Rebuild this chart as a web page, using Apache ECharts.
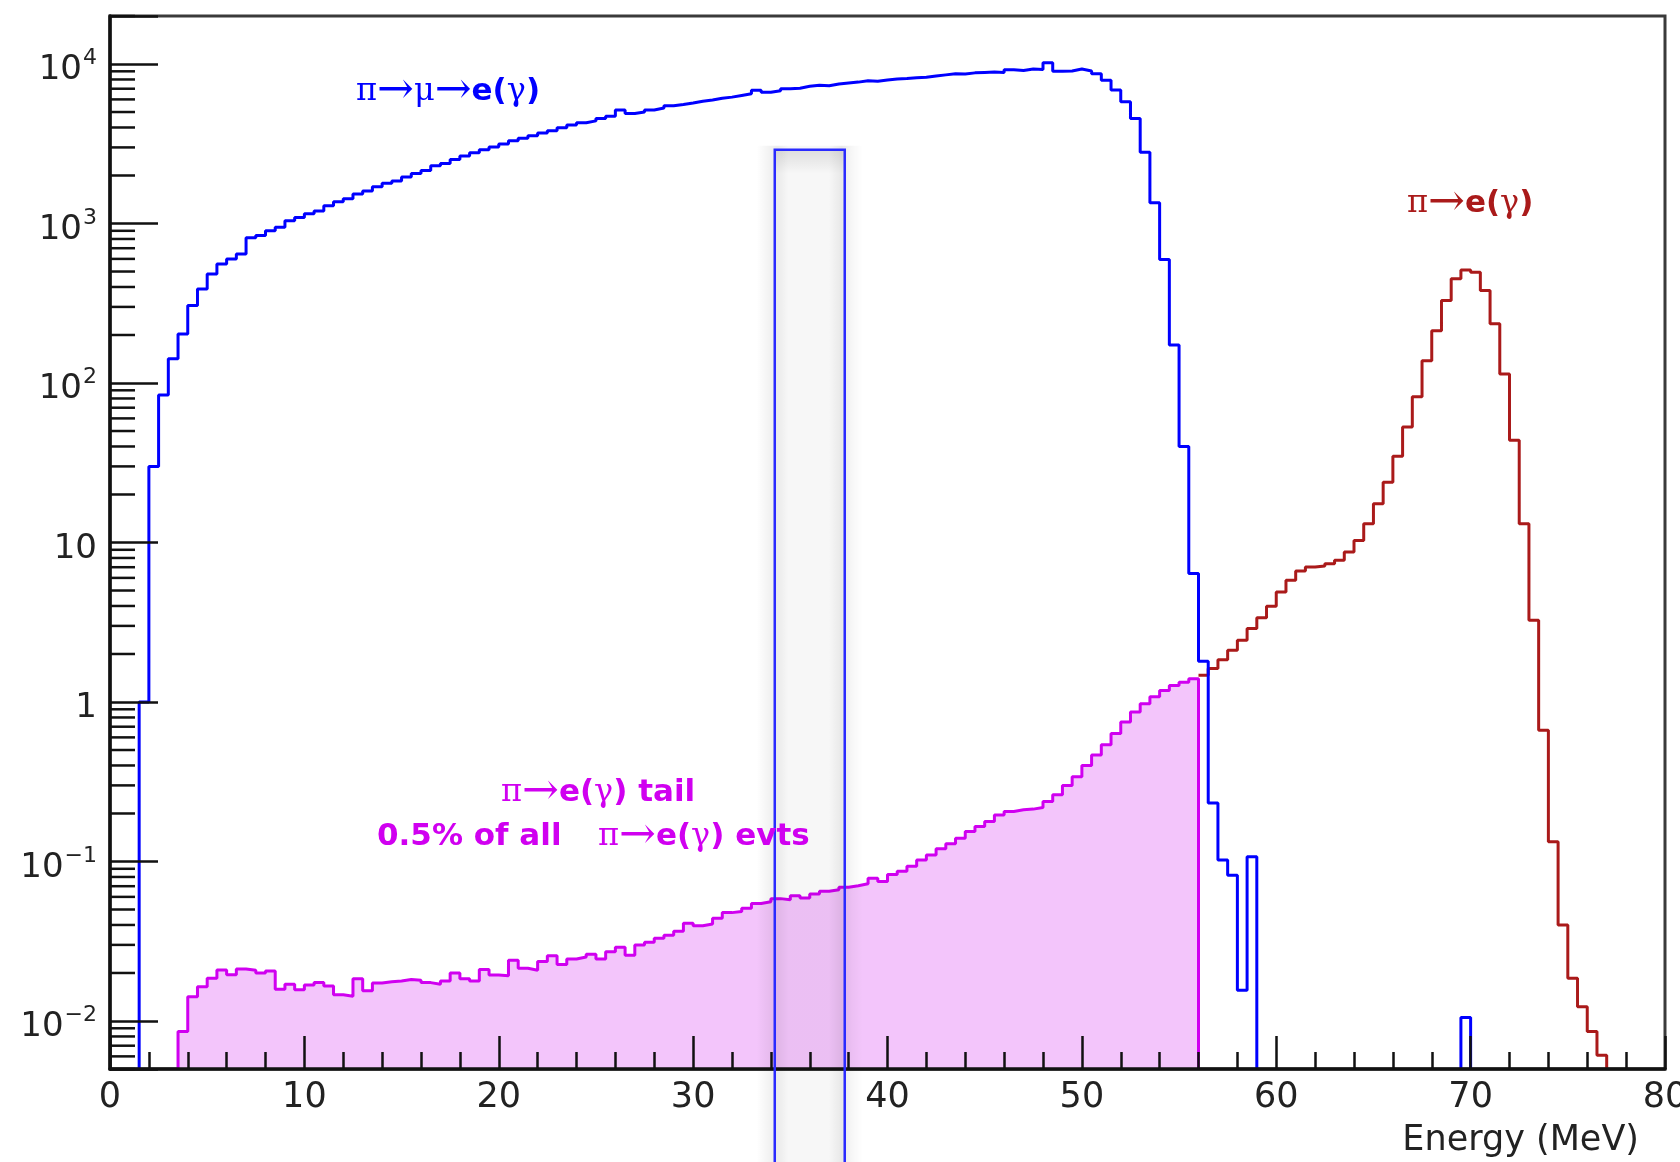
<!DOCTYPE html>
<html lang="en">
<head>
    <meta charset="UTF-8">
    <title>pi decay energy spectrum</title>
    <script src="https://cdn.jsdelivr.net/npm/echarts@6/dist/echarts.min.js"></script>
</head>
<body style="margin:0;background:#fff">
<div id="chart" style="width:1680px;height:1162px"></div>
<script>
    // all histograms use 0.5 MeV bins
    var binWidth = 0.5;
    var yMin = 0.005, yMax = 20000;

    // pi -> mu -> e(gamma), first bin starts at 1.5 MeV (0 = empty bin)
    var pmeStart = 1.5;
    var pmeCounts = [
        1.0, 30, 84, 142, 203, 306, 389, 483, 558, 600,
        645, 813, 840, 902, 946, 1040, 1090, 1150, 1200, 1290,
        1370, 1430, 1530, 1600, 1700, 1790, 1850, 1960, 2060, 2150,
        2300, 2380, 2520, 2650, 2780, 2900, 3020, 3150, 3300, 3420,
        3550, 3700, 3820, 3980, 4150, 4280, 4400, 4560, 4700, 5150,
        4900, 5000, 5150, 5300, 5480, 5580, 5700, 5850, 5950, 6100,
        6200, 6350, 6500, 6850, 6650, 6800, 7000, 7050, 7250, 7350,
        7300, 7500, 7600, 7700, 7850, 7800, 7950, 8050, 8100, 8200,
        8250, 8400, 8550, 8700, 8650, 8800, 8850, 8900, 8850, 9200,
        9100, 9300, 9250, 10200, 9000, 9050, 9300, 9050, 8690, 7900,
        6860, 5800, 4550, 2800, 1350, 595, 173, 40, 6.4, 1.8,
        0.233, 0.102, 0.082, 0.0156, 0.107, 0, 0, 0, 0, 0,
        0, 0, 0, 0, 0, 0, 0, 0, 0, 0,
        0, 0, 0, 0, 0, 0, 0.0105
    ];

    // pi -> e(gamma), first bin starts at 3.5 MeV
    var peStart = 3.5;
    var peCounts = [
        0.0086, 0.0142, 0.0164, 0.0185, 0.0209, 0.0195, 0.0212, 0.0208, 0.0200, 0.0206,
        0.0158, 0.0170, 0.0157, 0.0168, 0.0174, 0.0166, 0.0146, 0.0143, 0.0184, 0.0155,
        0.0173, 0.0176, 0.0178, 0.0182, 0.0180, 0.0174, 0.0170, 0.0178, 0.0200, 0.0184,
        0.0178, 0.0210, 0.0194, 0.0192, 0.0240, 0.0214, 0.0208, 0.0236, 0.0256, 0.0226,
        0.0245, 0.0252, 0.0262, 0.0245, 0.0272, 0.0290, 0.0258, 0.0300, 0.0312, 0.0330,
        0.0345, 0.0365, 0.0410, 0.0395, 0.0405, 0.0440, 0.0478, 0.0485, 0.0510, 0.0545,
        0.0560, 0.0585, 0.0575, 0.0610, 0.0590, 0.0625, 0.0650, 0.0665, 0.0690, 0.0705,
        0.0725, 0.0785, 0.0750, 0.0830, 0.0870, 0.0935, 0.102, 0.110, 0.120, 0.129,
        0.140, 0.154, 0.166, 0.178, 0.196, 0.206, 0.211, 0.213, 0.218, 0.238,
        0.262, 0.300, 0.340, 0.400, 0.465, 0.540, 0.635, 0.750, 0.865, 0.975,
        1.08, 1.18, 1.27, 1.33, 1.40, 1.47, 1.62, 1.84, 2.11, 2.44,
        2.89, 3.38, 3.98, 4.90, 5.79, 6.63, 7.02, 7.13, 7.37, 7.73,
        8.71, 10.3, 13.1, 17.5, 23.9, 34.7, 53, 82, 138, 213,
        329, 450, 512, 495, 380, 235, 114, 43.7, 13.1, 3.25,
        0.666, 0.133, 0.040, 0.0185, 0.0123, 0.0086, 0.0061
    ];
    var tailCut = 56;   // below this energy the pi->e histogram is the shaded tail

    // highlighted energy window
    var boxRange = [34.2, 37.8];
    var boxTop = 2900;

    // ROOT style minor ticks on the log axis
    var minorMultipliers = [2, 3, 4, 5, 6, 7, 8, 9];
    var decades = [-3, -2, -1, 0, 1, 2, 3, 4];

    var blue = '#0000ff', red = '#aa1a1a', magenta = '#d000f0', pink = '#f3c5fb';
    var sans = 'DejaVu Sans', serif = 'DejaVu Serif';

    // bin contents -> points for a step ('end') line, empty bins drop to the floor
    function stepPoints(start, counts, lo, hi, openLeft) {
        var pts = [], inRun = false, lastX = null, first = true;
        for (var i = 0; i < counts.length; i++) {
            var x = start + i * binWidth;
            if (x < lo - 1e-9 || x + binWidth > hi + 1e-9) continue;
            var v = counts[i];
            if (v > 0) {
                if (!inRun) {
                    if (!(openLeft && first)) pts.push([x, yMin]);
                    inRun = true;
                }
                pts.push([x, v]);
                first = false;
            } else if (inRun) {
                pts.push([x, yMin]);
                pts.push([x, null]);
                inRun = false;
            }
            lastX = x;
        }
        if (inRun) pts.push([lastX + binWidth, yMin]);
        return pts;
    }

    var minorTicks = [];
    decades.forEach(function (e) {
        minorMultipliers.forEach(function (m) {
            var v = m * Math.pow(10, e);
            if (v >= yMin && v <= yMax) minorTicks.push([0, v]);
        });
    });

    function yLabel(v) {
        var lg = Math.log10(v);
        var e = Math.round(lg);
        if (Math.abs(lg - e) > 1e-6) return '';
        if (e === 0) return '{m|1}';
        if (e === 1) return '{m|10}';
        return '{m|10}{s|' + (e < 0 ? '\u2212' + (-e) : e) + '}';
    }

    // rich styles for the physics labels (greek + arrows + bold sans)
    function richFor(color) {
        return {
            g: {fontFamily: serif, fontSize: 32, fill: color, verticalAlign: 'middle'},
            a: {fontFamily: serif, fontSize: 44, fill: color, verticalAlign: 'middle'},
            b: {fontFamily: sans, fontWeight: 'bold', fontSize: 31, fill: color, verticalAlign: 'middle'}
        };
    }

    var _chart = echarts.init(document.getElementById('chart'));

    var option = {
        animation: false,
        backgroundColor: '#fff',
        grid: {
            left: 110, right: 15, top: 16, bottom: 93,
            show: true, borderColor: '#3a3a3a', borderWidth: 3,
            outerBoundsMode: 'none'
        },
        xAxis: {
            type: 'value', min: 0, max: 80, interval: 10, z: 5,
            axisLine: {onZero: false, lineStyle: {color: '#111', width: 3.5}},
            axisTick: {inside: true, length: 33, lineStyle: {color: '#111', width: 2.5}},
            minorTick: {show: true, splitNumber: 5, length: 17, lineStyle: {color: '#111', width: 2.5}},
            splitLine: {show: false},
            axisLabel: {margin: 11, fontFamily: sans, fontSize: 35, color: '#222'}
        },
        yAxis: {
            type: 'log', logBase: 10, min: yMin, max: yMax, z: 5,
            axisLine: {lineStyle: {color: '#111', width: 3.5}},
            axisTick: {inside: true, length: 48, lineStyle: {color: '#111', width: 2.5}},
            splitLine: {show: false},
            axisLabel: {
                margin: 13, fontFamily: sans, fontSize: 34, color: '#222',
                padding: [13, 0, 0, 0],
                formatter: yLabel,
                rich: {
                    m: {fontFamily: sans, fontSize: 34, color: '#222', lineHeight: 46},
                    s: {fontFamily: sans, fontSize: 22, color: '#222', verticalAlign: 'top', padding: [0, 0, 0, 1]}
                }
            }
        },
        graphic: [
            {
                type: 'text', x: 356, y: 92, z: 10,
                style: {
                    text: '{g|π}{a|→}{g|μ}{a|→}{b|e(}{g|γ}{b|)}', verticalAlign: 'middle', fill: blue,
                    rich: richFor(blue)
                }
            },
            {
                type: 'text', x: 1407, y: 204, z: 10,
                style: {
                    text: '{g|π}{a|→}{b|e(}{g|γ}{b|)}', verticalAlign: 'middle', fill: red,
                    rich: richFor(red)
                }
            },
            {
                type: 'text', x: 501, y: 793, z: 10,
                style: {
                    text: '{g|π}{a|→}{b|e(}{g|γ}{b|) tail}', verticalAlign: 'middle', fill: magenta,
                    rich: richFor(magenta)
                }
            },
            {
                type: 'text', x: 377, y: 837, z: 10,
                style: {
                    text: '0.5% of all', verticalAlign: 'middle', fill: magenta,
                    fontFamily: sans, fontWeight: 'bold', fontSize: 31
                }
            },
            {
                type: 'text', x: 598, y: 837, z: 10,
                style: {
                    text: '{g|π}{a|→}{b|e(}{g|γ}{b|) evts}', verticalAlign: 'middle', fill: magenta,
                    rich: richFor(magenta)
                }
            },
            {
                type: 'text', x: 1639, y: 1141, z: 10,
                style: {
                    text: 'Energy (MeV)', align: 'right', verticalAlign: 'middle',
                    fill: '#222', fontFamily: sans, fontSize: 35
                }
            }
        ],
        series: [
            {
                name: 'pi-e peak', type: 'line', step: 'end', symbol: 'none', z: 2,
                data: stepPoints(peStart, peCounts, tailCut, Infinity, true),
                lineStyle: {color: red, width: 3}
            },
            {
                name: 'pi-e tail', type: 'line', step: 'end', symbol: 'none', z: 3,
                data: stepPoints(peStart, peCounts, -Infinity, tailCut, false),
                lineStyle: {color: magenta, width: 3},
                areaStyle: {color: pink, opacity: 1, origin: 'start'}
            },
            {
                name: 'pi-mu-e', type: 'line', step: 'end', symbol: 'none', z: 4,
                data: stepPoints(pmeStart, pmeCounts, -Infinity, Infinity, false),
                lineStyle: {color: blue, width: 3}
            },
            {
                // minor ticks of the log axis, 2..9 in every decade
                type: 'custom', silent: true, z: 6,
                data: minorTicks,
                renderItem: function (params, api) {
                    var p = api.coord([api.value(0), api.value(1)]);
                    return {
                        type: 'line',
                        shape: {x1: p[0], y1: p[1], x2: p[0] + 25, y2: p[1]},
                        style: {stroke: '#111', lineWidth: 2.5}
                    };
                }
            },
            {
                // highlighted window, drawn past the bottom of the frame
                type: 'custom', silent: true, z: 7, clip: false,
                encode: {x: [0, 1], y: 2},
                data: [[boxRange[0], boxRange[1], boxTop]],
                renderItem: function (params, api) {
                    var a = api.coord([api.value(0), api.value(2)]);
                    var b = api.coord([api.value(1), api.value(2)]);
                    var h = api.getHeight() - a[1] + 10;
                    var w = b[0] - a[0];
                    return {
                        type: 'group',
                        children: [
                            {
                                type: 'rect',
                                shape: {x: a[0] - 18, y: a[1] - 4, width: w + 36, height: h + 4},
                                style: {
                                    fill: new echarts.graphic.LinearGradient(0, 0, 1, 0, [
                                        {offset: 0, color: 'rgba(0,0,0,0)'},
                                        {offset: 0.12, color: 'rgba(0,0,0,0.05)'},
                                        {offset: 0.2, color: 'rgba(0,0,0,0.08)'},
                                        {offset: 0.3, color: 'rgba(0,0,0,0.03)'},
                                        {offset: 0.68, color: 'rgba(0,0,0,0.03)'},
                                        {offset: 0.8, color: 'rgba(0,0,0,0.09)'},
                                        {offset: 0.9, color: 'rgba(0,0,0,0.03)'},
                                        {offset: 1, color: 'rgba(0,0,0,0)'}
                                    ])
                                }
                            },
                            {
                                type: 'rect',
                                shape: {x: a[0], y: a[1], width: w, height: 24},
                                style: {
                                    fill: new echarts.graphic.LinearGradient(0, 0, 0, 1, [
                                        {offset: 0, color: 'rgba(0,0,0,0.10)'},
                                        {offset: 1, color: 'rgba(0,0,0,0)'}
                                    ])
                                }
                            },
                            {
                                type: 'rect',
                                shape: {x: a[0], y: a[1], width: w, height: h},
                                style: {fill: 'none', stroke: '#2a2aff', lineWidth: 2.5}
                            }
                        ]
                    };
                }
            }
        ]
    };
    _chart.setOption(option, true);
</script>
</body>
</html>
